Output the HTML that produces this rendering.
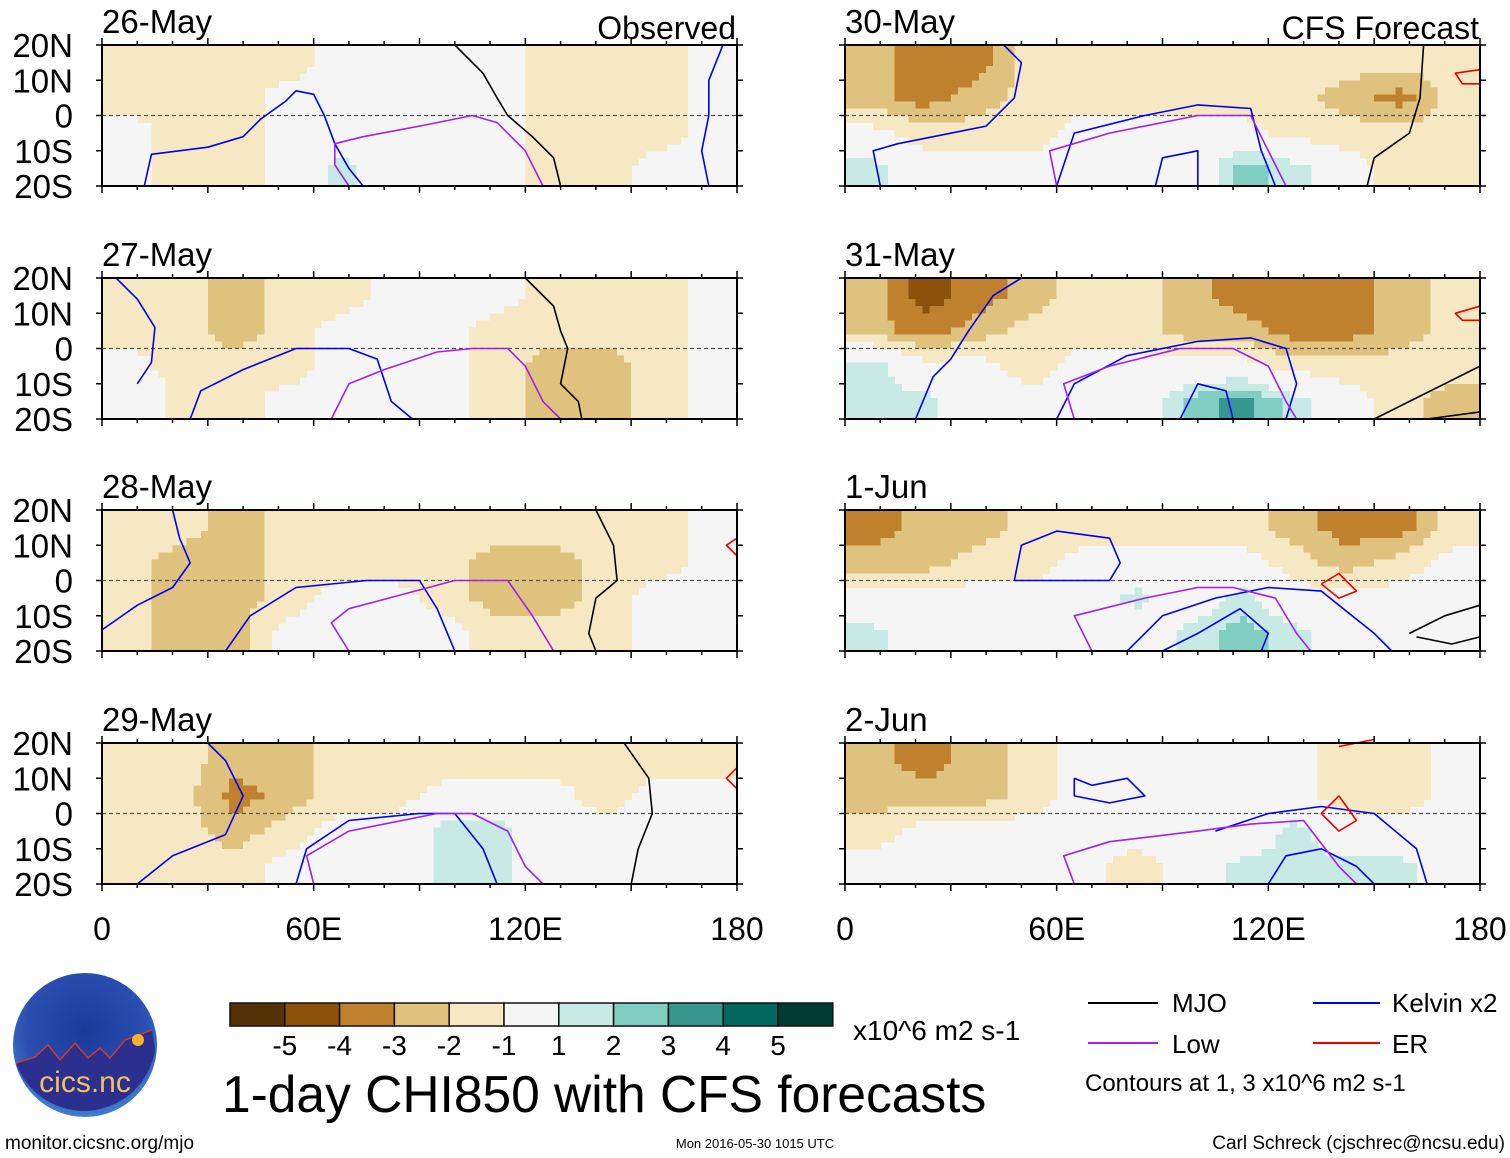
<!DOCTYPE html>
<html><head><meta charset="utf-8"><style>
body{margin:0;background:#fff}
svg{display:block;font-family:"Liberation Sans",Arial,sans-serif}
</style></head><body>
<svg id="chart" width="1510" height="1158" viewBox="0 0 1510 1158" xmlns="http://www.w3.org/2000/svg">
<defs>
<radialGradient id="logoG" cx="50%" cy="40%" r="60%"><stop offset="0" stop-color="#1a3a9a"/><stop offset="0.7" stop-color="#2a4fb0"/><stop offset="1" stop-color="#3f7fd0"/></radialGradient>
</defs>
<g id="panels"></g>
<g id="logo">
<circle cx="85" cy="1045" r="72" fill="url(#logoG)"/>
<path d="M16 1063 L35 1057 L48 1045 L60 1060 L75 1043 L88 1058 L100 1048 L110 1058 L125 1040 L152 1030 L155 1050 A72 72 0 0 1 16 1063 Z" fill="#2b2f8e"/>
<path d="M16 1063 L35 1057 L48 1045 L60 1060 L75 1043 L88 1058 L100 1048 L110 1058 L125 1040 L152 1030" fill="none" stroke="#d23a2a" stroke-width="1.5"/>
<circle cx="138" cy="1040" r="6" fill="#f5b030"/>
<text x="85" y="1092" text-anchor="middle" font-size="30" fill="#f2c060">cics.nc</text>
</g>
<text x="5" y="1149" font-size="19">monitor.cicsnc.org/mjo</text>
<text x="755" y="1148" font-size="13" text-anchor="middle">Mon 2016-05-30 1015 UTC</text>
<text x="1505" y="1149" font-size="19" text-anchor="end">Carl Schreck (cjschrec@ncsu.edu)</text>
<text x="222" y="1112" font-size="51.5">1-day CHI850 with CFS forecasts</text>
<text x="853" y="1040" font-size="28">x10^6 m2 s-1</text>
<g id="colorbar"></g>
<g>
<line x1="1088" y1="1003" x2="1158" y2="1003" stroke="#000" stroke-width="2"/><text x="1172" y="1012" font-size="26">MJO</text>
<line x1="1313" y1="1003" x2="1380" y2="1003" stroke="#0000ee" stroke-width="2"/><text x="1392" y="1012" font-size="26">Kelvin x2</text>
<line x1="1088" y1="1043" x2="1158" y2="1043" stroke="#a020f0" stroke-width="2"/><text x="1172" y="1053" font-size="26">Low</text>
<line x1="1313" y1="1043" x2="1380" y2="1043" stroke="#ee0000" stroke-width="2"/><text x="1392" y="1053" font-size="26">ER</text>
<text x="1085" y="1091" font-size="24">Contours at 1, 3 x10^6 m2 s-1</text>
</g>
</svg>
<script>
const levels=[-5,-4,-3,-2,-1,1,2,3,4,5];
const colors=["#543005","#8c510a","#bf812d","#dfc27d","#f6e8c3","#f5f5f5","#c7eae5","#80cdc1","#35978f","#01665e","#003c30"];
const xTickLabels=["0","60E","120E","180"];
const yTickLabels=["20N","10N","0","10S","20S"];
const dates=["26-May","27-May","28-May","29-May","30-May","31-May","1-Jun","2-Jun"];
const lonCenters=[7.5,22.5,37.5,52.5,67.5,82.5,97.5,112.5,127.5,142.5,157.5,172.5];
const latCenters=[15,5,-5,-15];
const chi26=[[-1.5,-1.5,-1.5,-1.5,-0.5,-0.5,-0.5,-0.5,-1.5,-1.5,-1.5,-0.5],[-1.5,-1.5,-1.5,-0.5,-0.5,-0.5,-0.5,-0.5,-1.5,-1.5,-1.5,-0.5],[-0.5,-1.5,-1.5,-0.5,0,-0.5,-0.5,-0.5,-1.5,-1.5,-1.5,-0.5],[-0.5,-1.5,-1.5,-0.5,1.5,-0.5,-0.5,-0.5,-1.5,-1.5,-0.5,-0.5]];
const chi27=[[-1.5,-1.5,-2.5,-1.5,-1.5,-0.5,-0.5,-0.5,-1.5,-1.5,-1.5,-0.5],[-1.5,-1.5,-2.5,-1.5,-0.5,-0.5,-0.5,-1.5,-1.5,-1.5,-1.5,-0.5],[-0.5,-1.5,-1.5,-1.5,-0.5,-0.5,-0.5,-1.5,-2.5,-2.5,-1.5,-0.5],[0.5,-1.5,-1.5,-0.5,-0.5,-0.5,-0.5,-1.5,-2.5,-2.5,-1.5,-0.5]];
const chi28=[[-1.5,-1.5,-2.5,-1.5,-1.5,-1.5,-1.5,-1.5,-1.5,-1.5,-1.5,-0.5],[-1.5,-2.5,-2.5,-1.5,-1.5,-1.5,-1.5,-2.5,-2.5,-1.5,-1.5,-0.5],[-1.5,-2.5,-2.5,-1.5,-0.5,-0.5,-1.5,-2.5,-2.5,-1.5,-0.5,-0.5],[-1.5,-2.5,-2.5,-0.5,-0.5,-0.5,-0.5,-1.5,-1.5,-1.5,-0.5,-0.5]];
const chi29=[[-1.5,-1.5,-2.5,-2.5,-1.5,-1.5,-1.5,-1.5,-1.5,-1.5,-1.5,-1.5],[-1.5,-1.5,-3.5,-2.5,-1.5,-1.5,-0.5,-0.5,-0.5,-1.5,-0.5,-0.5],[-1.5,-1.5,-2.5,-1.5,-0.5,-0.5,1.5,1.5,-0.5,-0.5,-0.5,-0.5],[-1.5,-1.5,-1.5,-0.5,-0.5,-0.5,1.5,1.5,-0.5,-0.5,-0.5,-0.5]];
const chi30=[[-2.5,-3.5,-3.5,-1.5,-1.5,-1.5,-1.5,-1.5,-1.5,-1.5,-1.5,-1.5],[-2.5,-3.5,-2.5,-1.5,-1.5,-1.5,-1.5,-1.5,-1.5,-2.5,-3.5,-1.5],[-0.5,-1.5,-1.5,-1.5,-0.5,-0.5,-0.5,-0.5,-1.5,-1.5,-1.5,-1.5],[1.5,-0.5,-0.5,-0.5,-0.5,-0.5,-0.5,2.5,1.5,-0.5,-1.5,-1.5]];
const chi31=[[-2.5,-4.5,-3.5,-2.5,-1.5,-1.5,-2.5,-3.5,-3.5,-3.5,-2.5,-1.5],[-2.5,-3.5,-2.5,-1.5,-1.5,-1.5,-2.5,-2.5,-3.5,-3.5,-2.5,-1.5],[1.5,-0.5,-0.5,-1.5,-0.5,-0.5,-0.5,-0.5,-1.5,-1.5,-1.5,-1.5],[1.5,1.5,-0.5,-0.5,-0.5,-0.5,2.5,3.5,1.5,-0.5,-1.5,-2.5]];
const chi01=[[-3.5,-2.5,-2.5,-1.5,-1.5,-1.5,-1.5,-1.5,-2.5,-3.5,-3.5,-1.5],[-2.5,-2.5,-1.5,-1.5,-0.5,-0.5,-0.5,-0.5,-1.5,-2.5,-1.5,-0.5],[-0.5,-0.5,-0.5,-0.5,-0.5,1.5,-0.5,1.5,-0.5,-0.5,-0.5,-0.5],[1.5,-0.5,-0.5,-0.5,-0.5,-0.5,1.5,2.5,1.5,-0.5,-0.5,-0.5]];
const chi02=[[-2.5,-3.5,-2.5,-1.5,-0.5,-0.5,-0.5,-0.5,-0.5,-1.5,-1.5,-0.5],[-2.5,-2.5,-2.5,-1.5,-0.5,-0.5,-0.5,-0.5,-0.5,-1.5,-1.5,-0.5],[-1.5,-0.5,-0.5,-0.5,-0.5,-0.5,-0.5,-0.5,1.5,-0.5,-0.5,-0.5],[-0.5,-0.5,-0.5,-0.5,-0.5,-1.5,-0.5,1.5,1.5,1.5,1.5,-0.5]];
const fields=[chi26,chi27,chi28,chi29,chi30,chi31,chi01,chi02];
const contours26=[["kelvin",[[12,-20],[14,-11],[30,-9],[40,-6],[45,-1],[52,4],[55,7],[60,6],[63,0],[66,-8],[70,-15],[74,-20]]],["kelvin",[[176,20],[172,10],[172,0],[170,-10],[172,-20]]],["low",[[70,-20],[66,-14],[66,-8],[74,-6],[90,-3],[105,0],[112,-2],[120,-10],[125,-20]]],["mjo",[[100,20],[108,12],[112,5],[115,0],[122,-6],[128,-12],[130,-20]]]];
const contours27=[["kelvin",[[25,-20],[28,-12],[40,-6],[55,0],[70,0],[78,-3],[82,-15],[88,-20]]],["kelvin",[[4,20],[10,14],[15,6],[14,-4],[10,-10]]],["low",[[65,-20],[70,-10],[80,-6],[95,-1],[105,0],[115,0],[120,-5],[125,-15],[130,-20]]],["mjo",[[120,20],[128,12],[130,5],[132,0],[130,-10],[135,-15],[136,-20]]]];
const contours28=[["kelvin",[[0,-14],[10,-7],[20,-2],[25,5],[22,12],[20,20]]],["kelvin",[[35,-20],[42,-10],[55,-2],[75,0],[90,0],[95,-8],[100,-20]]],["low",[[70,-20],[65,-12],[70,-8],[85,-4],[100,0],[115,0],[122,-10],[128,-20]]],["mjo",[[140,20],[145,10],[146,0],[140,-5],[138,-15],[140,-20]]],["er",[[180,12],[177,10],[180,7]]]];
const contours29=[["kelvin",[[10,-20],[20,-12],[35,-6],[40,5],[35,15],[30,20]]],["kelvin",[[55,-20],[58,-10],[70,-2],[90,0],[100,0],[108,-10],[112,-20]]],["low",[[60,-20],[58,-12],[70,-5],[95,0],[105,0],[115,-5],[120,-15],[125,-20]]],["mjo",[[148,20],[155,10],[156,0],[152,-10],[150,-20]]],["er",[[180,13],[177,10],[180,7]]]];
const contours30=[["kelvin",[[10,-20],[8,-10],[15,-8],[25,-6],[40,-3],[48,5],[50,15],[45,20]]],["kelvin",[[60,-20],[65,-5],[85,0],[100,3],[115,2],[118,-10],[122,-20]]],["kelvin",[[88,-20],[90,-12],[100,-10],[100,-20]]],["low",[[60,-20],[58,-10],[75,-5],[100,0],[115,0],[120,-10],[125,-20]]],["mjo",[[164,20],[163,5],[160,-5],[150,-12],[148,-20]]],["er",[[180,13],[173,12],[175,9],[180,9]]]];
const contours31=[["kelvin",[[20,-20],[25,-8],[30,-3],[35,5],[42,15],[50,20]]],["kelvin",[[60,-20],[65,-10],[80,-2],[100,2],[115,3],[125,0],[128,-10],[125,-20]]],["kelvin",[[95,-20],[100,-10],[108,-12],[110,-20]]],["low",[[65,-20],[62,-10],[75,-5],[95,0],[110,0],[120,-5],[125,-15],[128,-20]]],["mjo",[[150,-20],[160,-15],[170,-10],[180,-5]]],["mjo",[[165,-20],[180,-18]]],["er",[[180,12],[173,10],[175,8],[180,8]]]];
const contours01=[["kelvin",[[48,0],[50,10],[60,14],[75,12],[78,5],[75,0],[60,0],[48,0]]],["kelvin",[[80,-20],[90,-10],[105,-5],[120,-2],[135,-3],[150,-15],[155,-20]]],["kelvin",[[90,-20],[100,-15],[112,-8],[120,-15],[118,-20]]],["low",[[70,-20],[65,-10],[85,-5],[100,-2],[110,-2],[122,-5],[128,-15],[132,-20]]],["mjo",[[160,-15],[170,-10],[180,-7]]],["mjo",[[162,-16],[172,-18],[180,-16]]],["er",[[135,-1],[140,2],[145,-3],[140,-5],[135,-1]]]];
const contours02=[["kelvin",[[65,10],[70,8],[80,10],[85,5],[75,3],[65,5],[65,10]]],["kelvin",[[105,-5],[120,0],[135,2],[150,0],[162,-10],[165,-20]]],["kelvin",[[120,-20],[125,-12],[135,-10],[145,-15],[150,-20]]],["low",[[65,-20],[62,-12],[75,-8],[100,-5],[115,-3],[130,-2],[140,-15],[145,-20]]],["er",[[140,5],[135,0],[140,-5],[145,-2],[140,5]]],["er",[[140,19],[150,21]]]];
const contourSets=[contours26,contours27,contours28,contours29,contours30,contours31,contours01,contours02];

const NS="http://www.w3.org/2000/svg";
const panelsG=document.getElementById('panels');
const W=635,H=141,colX=[102,845],rowY=[45,278,510,743];
const lineColor={kelvin:"#0000ee",low:"#a020f0",mjo:"#000",er:"#ee0000"};
function mk(tag,attrs,parent){const e=document.createElementNS(NS,tag);for(const k in attrs)e.setAttribute(k,attrs[k]);parent.appendChild(e);return e;}
function colorFor(v){let i=0;while(i<levels.length&&v>levels[i])i++;return colors[i];}
function interp(field,lon,lat){
  const fx=Math.min(Math.max((lon-lonCenters[0])/15,0),lonCenters.length-1);
  const fy=Math.min(Math.max((latCenters[0]-lat)/10,0),latCenters.length-1);
  const i0=Math.min(Math.floor(fx),lonCenters.length-2),j0=Math.min(Math.floor(fy),latCenters.length-2);
  const tx=fx-i0,ty=fy-j0;
  const a=field[j0][i0],b=field[j0][i0+1],c=field[j0+1][i0],d=field[j0+1][i0+1];
  return (a*(1-tx)+b*tx)*(1-ty)+(c*(1-tx)+d*tx)*ty;
}

for(let p=0;p<8;p++){
  const col=p<4?0:1,row=p%4,x0=colX[col],y0=rowY[row];
  const xs=lon=>x0+lon/180*W, ys=lat=>y0+(20-lat)/40*H;
  const g=mk('g',{},panelsG);
  
  
  mk('rect',{x:x0,y:y0,width:W,height:H,fill:'#f5f5f5'},g);
  const hg=mk('g',{'shape-rendering':'crispEdges'},g);
  const step=2;
  for(let lat=20;lat>-20;lat-=step){
    let runStart=0,runCol=null;
    for(let lon=0;lon<=180;lon+=step){
      const c=lon<180?colorFor(interp(fields[p],lon+step/2,lat-step/2)):null;
      if(c!==runCol){
        if(runCol&&runCol!=='#f5f5f5'){
          const r=mk('rect',{x:xs(runStart).toFixed(2),y:ys(lat).toFixed(2),width:(xs(lon)-xs(runStart)+0.6).toFixed(2),height:(ys(lat-step)-ys(lat)+0.6).toFixed(2),fill:runCol},hg);
          
          
        }
        runStart=lon;runCol=c;
      }
    }
  }
  const lg=mk('g',{},g);
  mk('line',{x1:x0,y1:ys(0),x2:x0+W,y2:ys(0),stroke:'#555','stroke-width':1.2,'stroke-dasharray':'4,3'},lg);
  contourSets[p].forEach(([t,pts])=>{
    const pl=mk('polyline',{points:pts.map(q=>xs(q[0]).toFixed(1)+','+ys(q[1]).toFixed(1)).join(' '),fill:'none',stroke:lineColor[t],'stroke-width':1.6,'stroke-linejoin':'round'},lg);
    
    
  });
  mk('rect',{x:x0,y:y0,width:W,height:H,fill:'none',stroke:'#000','stroke-width':2},g);
  for(let lon=0;lon<=180;lon+=10){const tl=lon%30==0?7:4;
    mk('line',{x1:xs(lon),y1:y0,x2:xs(lon),y2:y0-tl,stroke:'#000','stroke-width':1.5},g);
    mk('line',{x1:xs(lon),y1:y0+H,x2:xs(lon),y2:y0+H+tl,stroke:'#000','stroke-width':1.5},g);}
  for(let lat=-20;lat<=20;lat+=10){
    mk('line',{x1:x0,y1:ys(lat),x2:x0-6,y2:ys(lat),stroke:'#000','stroke-width':1.5},g);
    mk('line',{x1:x0+W,y1:ys(lat),x2:x0+W+6,y2:ys(lat),stroke:'#000','stroke-width':1.5},g);}
  const dt=mk('text',{x:x0,y:y0-12,'font-size':33},g);dt.textContent=dates[p];
  
  
  if(col==0){yTickLabels.forEach((l,i)=>{const t=mk('text',{x:73,y:y0+i*H/4+12,'font-size':33,'text-anchor':'end'},g);t.textContent=l;
    
    });}
  if(row==0){const t=mk('text',{x:x0+W-1,y:y0-6,'font-size':32,'text-anchor':'end'},g);t.textContent=col==0?'Observed':'CFS Forecast';
    
    }
  if(row==3){xTickLabels.forEach((l,i)=>{const t=mk('text',{x:x0+i*W/3,y:940,'font-size':32,'text-anchor':'middle'},g);t.textContent=l;
    
    });}
}
const cb=document.getElementById('colorbar');
const bw=54.8;
colors.forEach((c,i)=>{const r=mk('rect',{x:230+i*bw,y:1003,width:bw,height:23,fill:c,stroke:'#111','stroke-width':1.5},cb);
  
  });
levels.forEach((l,i)=>{const t=mk('text',{x:230+(i+1)*bw,y:1055,'font-size':28,'text-anchor':'middle'},cb);t.textContent=String(l);
  
  });
</script>
</body></html>
